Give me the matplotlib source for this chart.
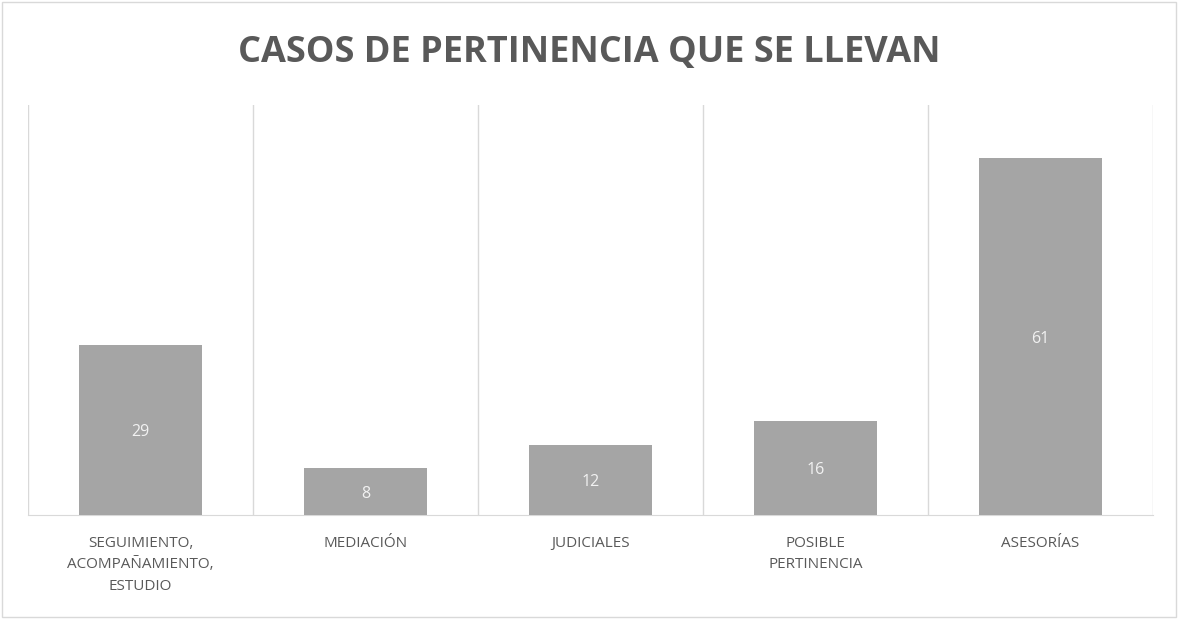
import matplotlib.pyplot as plt
from matplotlib.patches import Rectangle

categories = ['SEGUIMIENTO,\nACOMPAÑAMIENTO,\nESTUDIO', 'MEDIACIÓN', 'JUDICIALES',
              'POSIBLE\nPERTINENCIA', 'ASESORÍAS']
values = [29, 8, 12, 16, 61]

fig = plt.figure(figsize=(11.78, 6.2), dpi=100)
ax = fig.add_axes([28 / 1178, 105 / 620, 1125 / 1178, 410 / 620])

x = range(len(categories))
bars = ax.bar(x, values, width=0.55, color='#A5A5A5', zorder=3)

for b, v in zip(bars, values):
    ax.text(b.get_x() + b.get_width() / 2, v / 2 - 0.4, str(v), ha='center', va='center',
            color='#F2F2F2', fontsize=11.5, family='Open Sans', zorder=4)

ax.set_xlim(-0.5, len(categories) - 0.5)
ax.set_ylim(0, 70)
ax.set_yticks([])

# vertical gridlines between categories
ax.set_xticks([i - 0.5 for i in range(len(categories) + 1)], minor=True)
ax.grid(axis='x', which='minor', color='#D9D9D9', linewidth=1, zorder=0)
ax.set_xticks(list(x))
ax.set_xticklabels(categories, fontsize=11, color='#595959', family='Open Sans',
                   linespacing=1.6, va='top')
ax.tick_params(axis='x', which='both', length=0, pad=15)

for s in ['top', 'left', 'right']:
    ax.spines[s].set_visible(False)
ax.spines['bottom'].set_color('#D9D9D9')

fig.text(0.5, 1 - 53 / 620, 'CASOS DE PERTINENCIA QUE SE LLEVAN', ha='center', va='center',
         fontsize=26, fontweight='bold', color='#595959', family='Open Sans')

fig.patches.append(Rectangle((2 / 1178, 3 / 620), 1174 / 1178, 615 / 620, transform=fig.transFigure,
                             fill=False, edgecolor='#D9D9D9', linewidth=1))

fig.savefig('out.png', dpi=100)
